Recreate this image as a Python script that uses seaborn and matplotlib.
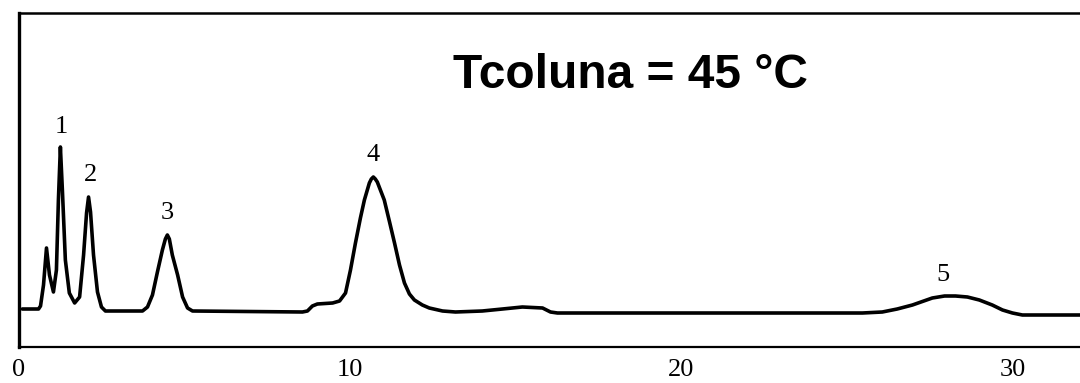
import matplotlib
matplotlib.use("Agg")
import matplotlib.pyplot as plt
import seaborn as sns
import pandas as pd

# Chromatogram trace (time in min, detector signal in arbitrary units)
time_min = [0.10, 0.59, 0.65, 0.74, 0.83, 0.92, 1.04, 1.13, 1.19, 1.25, 1.31, 1.40, 1.52,
            1.68, 1.83, 1.95, 2.04, 2.10, 2.16, 2.25, 2.37, 2.49, 2.61,
            3.73, 3.88, 4.03, 4.18, 4.33, 4.42, 4.48, 4.54, 4.63, 4.79, 4.94, 5.09, 5.24,
            8.56, 8.71, 8.86, 9.01, 9.47, 9.68, 9.86, 10.01, 10.16, 10.31, 10.43,
            10.58, 10.64, 10.70, 10.76, 10.82, 11.03, 11.19, 11.34, 11.49, 11.64, 11.79, 11.94,
            12.18, 12.39, 12.79, 13.18, 13.99, 14.60, 15.20, 15.81, 16.05, 16.26,
            25.47, 26.07, 26.52, 26.98, 27.58, 27.95, 28.28, 28.64, 29.00, 29.39, 29.70,
            30.00, 30.30, 32.20]
signal = [38, 38, 41, 62, 99, 72, 55, 77, 147, 200, 157, 87, 54,
          44, 50, 92, 134, 150, 135, 92, 55, 40, 36,
          36, 40, 52, 75, 97, 108, 112, 108, 92, 72, 50, 39, 36,
          35, 36, 41, 43, 44, 46, 54, 77, 104, 129, 147,
          164, 168, 170, 168, 165, 147, 125, 104, 82, 64, 53, 47,
          42, 39, 36, 35, 36, 38, 40, 39, 35, 34,
          34, 35, 38, 42, 49, 51, 51, 50, 47, 42, 37,
          34, 32, 32]

peak_labels = ["1", "2", "3", "4", "5"]
peak_label_t = [1.28, 2.16, 4.48, 10.70, 27.90]
peak_label_s = [220, 172, 134, 192, 72]

tick_values = [0, 10, 20, 30]
tick_labels = ["0", "10", "20", "30"]
title_text = "Tcoluna = 45 °C"

df = pd.DataFrame({"t": time_min, "s": signal})

sns.set_style("white")
plt.rcParams["font.family"] = ["Liberation Serif", "DejaVu Serif"]

fig = plt.figure(figsize=(10.8, 3.83), dpi=100)
ax = fig.add_axes([19 / 1080, 1 - 347 / 383, 1 - 19 / 1080, (347 - 13) / 383])

sns.lineplot(data=df, x="t", y="s", ax=ax, color="black", linewidth=2.6,
             sort=False, estimator=None, solid_joinstyle="round",
             solid_capstyle="round")

ax.set_xlim(0, 32.04)
ax.set_ylim(0, 334)
ax.set_xlabel("")
ax.set_ylabel("")
ax.set_yticks([])
ax.set_xticks(tick_values)
ax.set_xticklabels(tick_labels, fontsize=19, family=["Liberation Serif"])
ax.tick_params(axis="x", direction="in", length=15, width=1.5, pad=9, colors="black")

for side in ["left", "top", "bottom"]:
    ax.spines[side].set_visible(True)
    ax.spines[side].set_color("black")
ax.spines["left"].set_linewidth(2.4)
ax.spines["top"].set_linewidth(1.8)
ax.spines["bottom"].set_linewidth(1.6)
ax.spines["right"].set_visible(False)

for lab, t, s in zip(peak_labels, peak_label_t, peak_label_s):
    ax.text(t, s, lab, ha="center", va="center", fontsize=19,
            family=["Liberation Serif"], color="black")

fig.text(630 / 1080, 1 - 75 / 383, title_text, ha="center", va="center",
         fontsize=34.5, fontweight="bold", family=["Liberation Sans", "DejaVu Sans"],
         color="black")

fig.savefig("out.png", dpi=100)
